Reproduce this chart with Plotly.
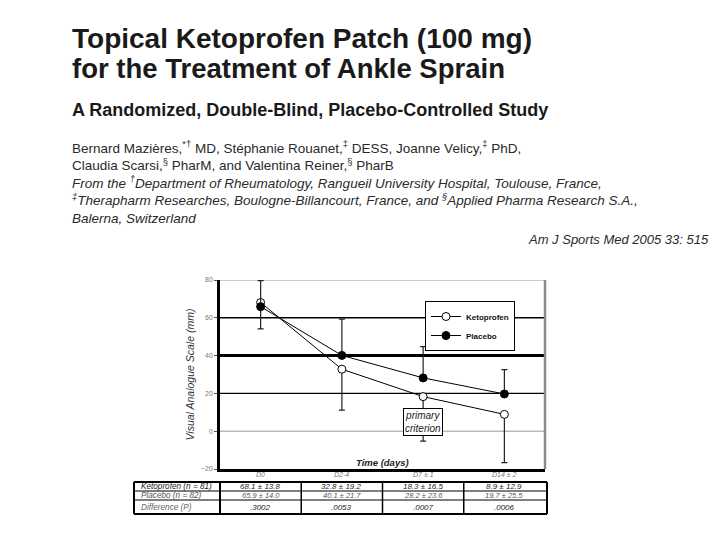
import plotly.graph_objects as go

# ---------------- data ----------------
time_points = ["D0", "D2-4", "D7 \u00b1 1", "D14 \u00b1 2"]
keto_mean = [68.1, 32.8, 18.3, 8.9]
placebo_mean = [65.9, 40.1, 28.2, 19.7]
keto_err_down = [14.0, 21.7, 23.6, 25.5]
placebo_err_up = [13.8, 19.2, 16.5, 12.9]

row_labels = ["Ketoprofen (n = 81)", "Placebo (n = 82)", "Difference (P)"]
keto_cells = ["68.1 \u00b1 13.8", "32.8 \u00b1 19.2", "18.3 \u00b1 16.5", "8.9 \u00b1 12.9"]
placebo_cells = ["65.9 \u00b1 14.0", "40.1 \u00b1 21.7", "28.2 \u00b1 23.6", "19.7 \u00b1 25.5"]
p_cells = [".3002", ".0053", ".0007", ".0006"]

y_ticks = [-20, 0, 20, 40, 60, 80]
black_grid = [20, 60]
thick_grid = [40]
gray_grid = [0, 80]

title_lines = ["Topical Ketoprofen Patch (100 mg)", "for the Treatment of Ankle Sprain"]
subtitle = "A Randomized, Double-Blind, Placebo-Controlled Study"
author_lines = [
    "Bernard Mazi\u00e8res,<sup>*\u2020</sup> MD, St\u00e9phanie Rouanet,<sup>\u2021</sup> DESS, Joanne Velicy,<sup>\u2021</sup> PhD,",
    "Claudia Scarsi,<sup>\u00a7</sup> PharM, and Valentina Reiner,<sup>\u00a7</sup> PharB",
    "<i>From the <sup>\u2020</sup>Department of Rheumatology, Rangueil University Hospital, Toulouse, France,</i>",
    "<i><sup>\u2021</sup>Therapharm Researches, Boulogne-Billancourt, France, and <sup>\u00a7</sup>Applied Pharma Research S.A.,</i>",
    "<i>Balerna, Switzerland</i>",
]
citation = "<i>Am J Sports Med 2005 33: 515</i>"

FONT = "Liberation Sans, Arial, sans-serif"
H = 540.0
W = 720.0
OFF = 8  # page body margin

def py(pix):
    return 1 - (pix - OFF) / H

def px(pix):
    return (pix - OFF) / W

fig = go.Figure()

fig.add_trace(go.Scatter(
    x=time_points, y=keto_mean, name="Ketoprofen", mode="lines+markers",
    line=dict(color="black", width=1),
    marker=dict(symbol="circle", size=8, color="white", line=dict(color="black", width=1)),
    error_y=dict(type="data", symmetric=False, array=[0] * len(keto_mean),
                 arrayminus=keto_err_down, color="#222", thickness=1.2, width=3),
))
fig.add_trace(go.Scatter(
    x=time_points, y=placebo_mean, name="Placebo", mode="lines+markers",
    line=dict(color="black", width=1),
    marker=dict(symbol="circle", size=8, color="black", line=dict(color="black", width=1)),
    error_y=dict(type="data", symmetric=False, array=placebo_err_up,
                 arrayminus=[0] * len(placebo_mean), color="#222", thickness=1.2, width=3),
))

shapes = []
for g in black_grid:
    shapes.append(dict(type="line", xref="x domain", yref="y", x0=0, x1=1, y0=g, y1=g,
                       line=dict(color="black", width=1.4), layer="below"))
for g in thick_grid:
    shapes.append(dict(type="line", xref="x domain", yref="y", x0=0, x1=1, y0=g, y1=g,
                       line=dict(color="black", width=3), layer="below"))
for g in gray_grid:
    shapes.append(dict(type="line", xref="x domain", yref="y", x0=0, x1=1, y0=g, y1=g,
                       line=dict(color="#9a9a9a", width=1), layer="below"))
# right border
shapes.append(dict(type="line", xref="x domain", yref="y domain", x0=1, x1=1, y0=0, y1=1,
                   line=dict(color="#8a8a8a", width=2.5), layer="below"))

# ---- table below the chart ----
tab_left, tab_right = px(134), px(547)
row_edges = [py(482), py(491), py(500), py(514)]
for i, ye in enumerate(row_edges):
    w = 2 if i in (0, len(row_edges) - 1) else 1.2
    shapes.append(dict(type="line", xref="paper", yref="paper", x0=tab_left, x1=tab_right,
                       y0=ye, y1=ye, line=dict(color="black", width=w)))
shapes.append(dict(type="line", xref="paper", yref="paper", x0=tab_left, x1=tab_left,
                   y0=row_edges[0], y1=row_edges[-1], line=dict(color="black", width=2)))
shapes.append(dict(type="line", xref="paper", yref="paper", x0=tab_right, x1=tab_right,
                   y0=row_edges[0], y1=row_edges[-1], line=dict(color="black", width=2)))
shapes.append(dict(type="line", xref="x domain", yref="paper", x0=0, x1=0,
                   y0=row_edges[0], y1=row_edges[-1], line=dict(color="black", width=2)))
for k in range(len(time_points) - 1):
    shapes.append(dict(type="line", xref="x", yref="paper", x0=k + 0.5, x1=k + 0.5,
                       y0=row_edges[0], y1=row_edges[-1], line=dict(color="black", width=1.5)))

annotations = []
# header
annotations.append(dict(text=title_lines[0], x=px(70), y=py(39), xref="paper", yref="paper",
                        xanchor="left", yanchor="middle", showarrow=False,
                        font=dict(family=FONT, size=28, color="#1a1a1a", weight="bold")))
annotations.append(dict(text=title_lines[1], x=px(70), y=py(68), xref="paper", yref="paper",
                        xanchor="left", yanchor="middle", showarrow=False,
                        font=dict(family=FONT, size=27.5, color="#1a1a1a", weight="bold")))
annotations.append(dict(text=subtitle, x=px(70), y=py(110), xref="paper", yref="paper",
                        xanchor="left", yanchor="middle", showarrow=False,
                        font=dict(family=FONT, size=18, color="#1a1a1a", weight="bold")))
annotations.append(dict(text="<br>".join(author_lines), x=px(70), y=py(182), xref="paper",
                        yref="paper", xanchor="left", yanchor="middle", align="left",
                        showarrow=False,
                        font=dict(family=FONT, size=13.5, color="#2a2a2a")))
annotations.append(dict(text=citation, x=px(711), y=py(240), xref="paper", yref="paper",
                        xanchor="right", yanchor="middle", showarrow=False,
                        font=dict(family=FONT, size=13, color="#2a2a2a")))

# chart annotations
annotations.append(dict(text="<i>primary<br>criterion</i>", x=time_points[2], y=4.7,
                        xref="x", yref="y", showarrow=False,
                        font=dict(family=FONT, size=10, color="#222"),
                        bordercolor="black", borderwidth=1, borderpad=1, bgcolor="white"))
annotations.append(dict(text="<i><b>Time (days)</b></i>", x=1.5, y=-16.3, xref="x", yref="y",
                        showarrow=False, font=dict(family=FONT, size=9.5, color="#222")))

# x tick labels (just under the axis)
for tp in time_points:
    annotations.append(dict(text="<i>" + tp + "</i>", x=tp, y=py(474), xref="x", yref="paper",
                            showarrow=False, yanchor="middle",
                            font=dict(family=FONT, size=7, color="#777")))

# table text
row_centers = [(row_edges[i] + row_edges[i + 1]) / 2 for i in range(3)]
row_colors = ["#222", "#555", "#666"]
for label, yc, col in zip(row_labels, row_centers, row_colors):
    annotations.append(dict(text="<i>" + label + "</i>", x=px(139), y=yc, xref="paper", yref="paper",
                            xanchor="left", yanchor="middle", showarrow=False,
                            font=dict(family=FONT, size=8.2, color=col)))
for r, (cells, yc) in enumerate(zip([keto_cells, placebo_cells, p_cells], row_centers)):
    for tp, c in zip(time_points, cells):
        annotations.append(dict(text="<i>" + c + "</i>", x=tp, y=yc, xref="x", yref="paper",
                                showarrow=False, yanchor="middle",
                                font=dict(family=FONT, size=8 if r != 1 else 7.5,
                                          color="#222" if r != 1 else "#555")))

fig.update_layout(
    width=720, height=540,
    margin=dict(l=0, r=0, t=0, b=0),
    paper_bgcolor="white", plot_bgcolor="white",
    shapes=shapes, annotations=annotations,
    showlegend=True,
    legend=dict(x=px(425), y=py(301), xanchor="left", yanchor="top",
                bordercolor="black", borderwidth=1, bgcolor="white",
                font=dict(family=FONT, size=8, color="#111", weight="bold"),
                itemwidth=30, tracegroupgap=0),
    xaxis=dict(domain=[px(220), px(545)], range=[-0.5, 3.5], showgrid=False,
               showline=True, linecolor="black", linewidth=2.5, zeroline=False,
               ticks="", showticklabels=False, automargin=False),
    yaxis=dict(domain=[py(469), py(280)], range=[-20, 80], tickvals=y_ticks,
               showgrid=False, zeroline=False, showline=True, linecolor="black", linewidth=2.5,
               ticks="outside", ticklen=3, tickcolor="#555",
               tickfont=dict(family=FONT, size=7, color="#777"),
               title=dict(text="<i>Visual Analogue Scale (mm)</i>", standoff=5,
                          font=dict(family=FONT, size=10.5, color="#333")),
               automargin=False),
)

fig.write_html("out.html")
